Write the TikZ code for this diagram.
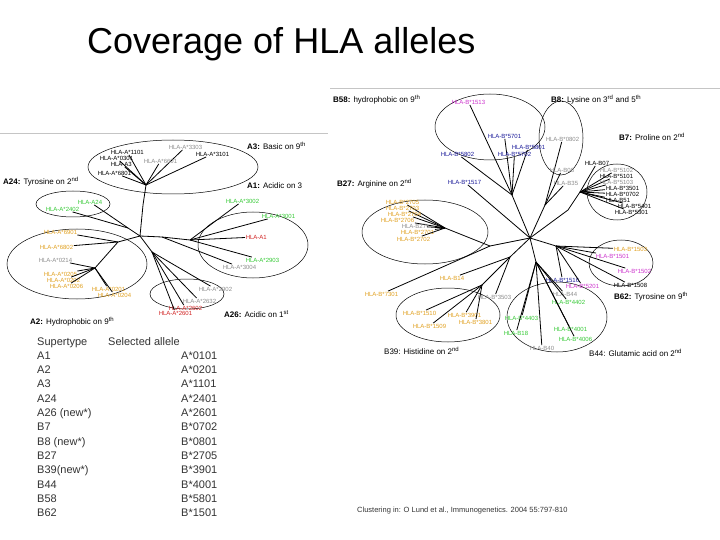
\documentclass[tikz,border=0pt]{standalone}
\usepackage{fontspec}
\setmainfont{Liberation Sans}
\usetikzlibrary{shapes.geometric}
\definecolor{cy}{HTML}{E0A020}
\definecolor{cg}{HTML}{33C833}
\definecolor{cr}{HTML}{D02020}
\definecolor{cgr}{HTML}{8C8C8C}
\definecolor{cb}{HTML}{1A1A99}
\definecolor{cm}{HTML}{CC33CC}
\definecolor{ct}{HTML}{333333}
\newcommand\lf[5]{\node[leaf,text=#2] (#1) at (#3) {#4};\draw[br] (#5) -- (#1);}
\begin{document}
\begin{tikzpicture}[x=1pt,y=-1pt,
 leaf/.style={anchor=west,inner sep=0.6pt,font=\fontsize{6}{6.5}\selectfont},
 br/.style={line width=0.8pt},
 ell/.style={draw,line width=0.5pt},
 hd/.style={anchor=west,inner sep=0pt,font=\fontsize{8}{9}\selectfont},
 tb/.style={anchor=base west,inner sep=0pt,text=ct,font=\fontsize{11}{12}\selectfont},
 frame/.style={draw=cgr!50,line width=0.6pt}]
\useasboundingbox (0,0) rectangle (720,540);
\node[anchor=west,inner sep=0pt,font=\fontsize{36}{40}\selectfont] (title) at (87,44) {Coverage of HLA alleles};
% frames
\draw[frame] (0,133) -- (328,133);
\draw[frame] (330,88) -- (720,88);
% ---------- left tree ----------
\coordinate (LC) at (140,236);
\coordinate (T1) at (143,205); \coordinate (T2) at (146,185);
\coordinate (H24) at (128,228); \coordinate (HA2) at (118,242); \coordinate (H2) at (95,268);
\coordinate (HA1) at (162,237); \coordinate (HA1b) at (190,240); \coordinate (H26) at (152,252);
\draw[br] (LC)--(T1)--(T2); \draw[br] (LC)--(H24); \draw[br] (LC)--(HA2)--(H2);
\draw[br] (LC)--(HA1)--(HA1b); \draw[br] (LC)--(H26);
\node[ell,ellipse, minimum width=170, minimum height=54] (eA3) at (173,167) {};
\node[ell,ellipse, minimum width=74, minimum height=26] (eA24) at (73,204) {};
\node[ell,ellipse, minimum width=110, minimum height=66] (eA1) at (253,245) {};
\node[ell,ellipse, minimum width=140, minimum height=70] (eA2) at (77,264) {};
\node[ell,ellipse, minimum width=74, minimum height=30] (eA26) at (187,294) {};
\node[hd] (hA3) at (247,146) {\textbf{A3:} Basic on 9\textsuperscript{th}};
\node[hd] (hA24) at (3,182) {\textbf{A24:} Tyrosine on 2\textsuperscript{nd}};
\node[hd] (hA1) at (247,186) {\textbf{A1:} Acidic on 3};
\node[hd] (hA2) at (30,322) {\textbf{A2:} Hydrophobic on 9\textsuperscript{th}};
\node[hd] (hA26) at (224,314) {\textbf{A26:} Acidic on 1\textsuperscript{st}};
\lf{a1101}{black}{110,152}{HLA-A*1101}{T2}
\lf{a0301}{black}{99,158}{HLA-A*0301}{T2}
\lf{a3}{black}{110,164}{HLA-A3}{T2}
\lf{a6801}{black}{97,173}{HLA-A*6801}{T2}
\lf{a3303}{cgr}{168,147}{HLA-A*3303}{T2}
\lf{a3101}{black}{195,154}{HLA-A*3101}{T2}
\lf{a6601}{cgr}{143,161}{HLA-A*6601}{T2}
\lf{a24}{cg}{77,202}{HLA-A24}{H24}
\lf{a2402}{cg}{45,209}{HLA-A*2402}{H24}
\lf{a6901}{cy}{43,232}{HLA-A*6901}{HA2}
\lf{a6802}{cy}{39,247}{HLA-A*6802}{HA2}
\lf{a0214}{cgr}{38,260}{HLA-A*0214}{H2}
\lf{a0205}{cy}{43,274}{HLA-A*0205}{H2}
\lf{a0202}{cy}{46,280}{HLA-A*0202}{H2}
\lf{a0206}{cy}{49,286}{HLA-A*0206}{H2}
\lf{a0201}{cy}{91,289}{HLA-A*0201}{H2}
\lf{a0204}{cy}{97,295}{HLA-A*0204}{H2}
\lf{a3002}{cg}{225,201}{HLA-A*3002}{HA1b}
\lf{a3001}{cg}{261,216}{HLA-A*3001}{HA1b}
\lf{aA1}{cr}{245,237}{HLA-A1}{HA1b}
\lf{a2903}{cg}{245,260}{HLA-A*2903}{HA1b}
\lf{a3004}{cgr}{222,267}{HLA-A*3004}{HA1}
\lf{a2902}{cgr}{198,289}{HLA-A*2902}{H26}
\lf{a2632}{cgr}{182,301}{HLA-A*2632}{H26}
\lf{a2602}{cr}{168,308}{HLA-A*2602}{H26}
\lf{a2601}{cr}{158,313}{HLA-A*2601}{H26}
% ---------- right tree ----------
\coordinate (RC) at (530,238);
\coordinate (B58) at (512,195); \coordinate (B8) at (545,205); \coordinate (B7) at (568,210); \coordinate (B7b) at (580,192);
\coordinate (B27) at (490,246); \coordinate (B27b) at (445,228); \coordinate (B62) at (556,246);
\coordinate (B39) at (510,257); \coordinate (B39b) at (482,285); \coordinate (B44) at (536,262);
\draw[br] (RC)--(B58); \draw[br] (RC)--(B8); \draw[br] (RC)--(B7)--(B7b);
\draw[br] (RC)--(B27)--(B27b); \draw[br] (RC)--(B62); \draw[br] (RC)--(B39)--(B39b); \draw[br] (RC)--(B44);
\node[ell,ellipse, minimum width=110, minimum height=66] (eB58) at (490,127) {};
\node[ell,ellipse, minimum width=44, minimum height=74] (eB8) at (561,138) {};
\node[ell,ellipse, minimum width=60, minimum height=56] (eB7) at (617,192) {};
\node[ell,ellipse, minimum width=126, minimum height=64] (eB27) at (425,232) {};
\node[ell,ellipse, minimum width=64, minimum height=46] (eB62) at (621,263) {};
\node[ell,ellipse, minimum width=104, minimum height=54] (eB39) at (448,315) {};
\node[ell,ellipse, minimum width=100, minimum height=70] (eB44) at (557,317) {};
\node[hd] (hB58) at (333,100) {\textbf{B58:} hydrophobic on 9\textsuperscript{th}};
\node[hd] (hB8) at (551,100) {\textbf{B8:} Lysine on 3\textsuperscript{rd} and 5\textsuperscript{th}};
\node[hd] (hB7) at (619,137) {\textbf{B7:} Proline on 2\textsuperscript{nd}};
\node[hd] (hB27) at (337,184) {\textbf{B27:} Arginine on 2\textsuperscript{nd}};
\node[hd] (hB62) at (614,297) {\textbf{B62:} Tyrosine on 9\textsuperscript{th}};
\node[hd] (hB39) at (384,351) {B39: Histidine on 2\textsuperscript{nd}};
\node[hd] (hB44) at (589,353) {B44: Glutamic acid on 2\textsuperscript{nd}};
\lf{b1513}{cm}{451,102}{HLA-B*1513}{B58}
\lf{b5701}{cb}{487,136}{HLA-B*5701}{B58}
\lf{b5801}{cb}{511,147}{HLA-B*5801}{B58}
\lf{b5702}{cb}{497,154}{HLA-B*5702}{B58}
\lf{b5802}{cb}{440,154}{HLA-B*5802}{B58}
\lf{b1517}{cb}{447,182}{HLA-B*1517}{RC}
\lf{b0802}{cgr}{545,139}{HLA-B*0802}{B8}
\lf{b08}{cgr}{549,170}{HLA-B08}{B8}
\lf{b35}{cgr}{553,183}{HLA-B35}{B8}
\lf{b07}{black}{584,163}{HLA-B07}{B7b}
\lf{b5102}{cgr}{599,170}{HLA-B*5102}{B7b}
\lf{b5101}{black}{599,176}{HLA-B*5101}{B7b}
\lf{b5103}{cgr}{599,182}{HLA-B*5103}{B7b}
\lf{b3501}{black}{605,188}{HLA-B*3501}{B7b}
\lf{b0702}{black}{605,194}{HLA-B*0702}{B7b}
\lf{b51}{black}{605,200}{HLA-B51}{B7b}
\lf{b5401}{black}{617,206}{HLA-B*5401}{B7b}
\lf{b5301}{black}{614,212}{HLA-B*5301}{B7b}
\lf{b2705}{cy}{385,202}{HLA-B*2705}{B27b}
\lf{b2703}{cy}{385,208}{HLA-B*2703}{B27b}
\lf{b2704}{cy}{387,214}{HLA-B*2704}{B27b}
\lf{b2706}{cy}{380,220}{HLA-B*2706}{B27b}
\lf{b27}{cgr}{401,226}{HLA-B27}{B27b}
\lf{b2701}{cy}{400,232}{HLA-B*2701}{B27b}
\lf{b2702}{cy}{396,239}{HLA-B*2702}{B27b}
\lf{b1503}{cy}{613,249}{HLA-B*1503}{B62}
\lf{b1501}{cm}{595,256}{HLA-B*1501}{B62}
\lf{b1502}{cm}{617,271}{HLA-B*1502}{B62}
\lf{b1508}{black}{613,285}{HLA-B*1508}{B62}
\lf{b1516}{cb}{545,280}{HLA-B*1516}{B62}
\lf{b5201}{cm}{565,286}{HLA-B*5201}{B62}
\lf{b7301}{cy}{364,294}{HLA-B*7301}{B27}
\lf{b14}{cy}{439,278}{HLA-B14}{B39}
\lf{b3503}{cgr}{477,297}{HLA-B*3503}{B39}
\lf{b1510}{cy}{402,313}{HLA-B*1510}{B39b}
\lf{b3901}{cy}{447,315}{HLA-B*3901}{B39b}
\lf{b3801}{cy}{458,322}{HLA-B*3801}{B39b}
\lf{b1509}{cy}{412,326}{HLA-B*1509}{B39b}
\lf{b44}{cgr}{552,294}{HLA-B44}{B44}
\lf{b4402}{cg}{551,302}{HLA-B*4402}{B44}
\lf{b4403}{cg}{504,318}{HLA-B*4403}{B44}
\lf{b4001}{cg}{553,329}{HLA-B*4001}{B44}
\lf{b18}{cg}{503,333}{HLA-B18}{B44}
\lf{b4006}{cg}{558,339}{HLA-B*4006}{B44}
\lf{b40}{cgr}{529,348}{HLA-B40}{B44}
% ---------- table ----------
\node[tb] (th1) at (37,345) {Supertype}; \node[tb] (th2) at (108,345) {Selected allele};
\foreach \a/\b [count=\i] in {A1/A*0101,A2/A*0201,A3/A*1101,A24/A*2401,A26 (new*)/A*2601,B7/B*0702,B8 (new*)/B*0801,B27/B*2705,B39(new*)/B*3901,B44/B*4001,B58/B*5801,B62/B*1501}{
 \node[tb] (ts\i) at (37,345+\i*14.3) {\a};
 \node[tb] (tv\i) at (181,345+\i*14.3) {\b};
}
\node[anchor=west,inner sep=0pt,text=ct,font=\fontsize{7.5}{8}\selectfont] (cite) at (357,511) {Clustering in: O Lund et al., Immunogenetics. 2004 55:797-810};
\end{tikzpicture}
\end{document}
